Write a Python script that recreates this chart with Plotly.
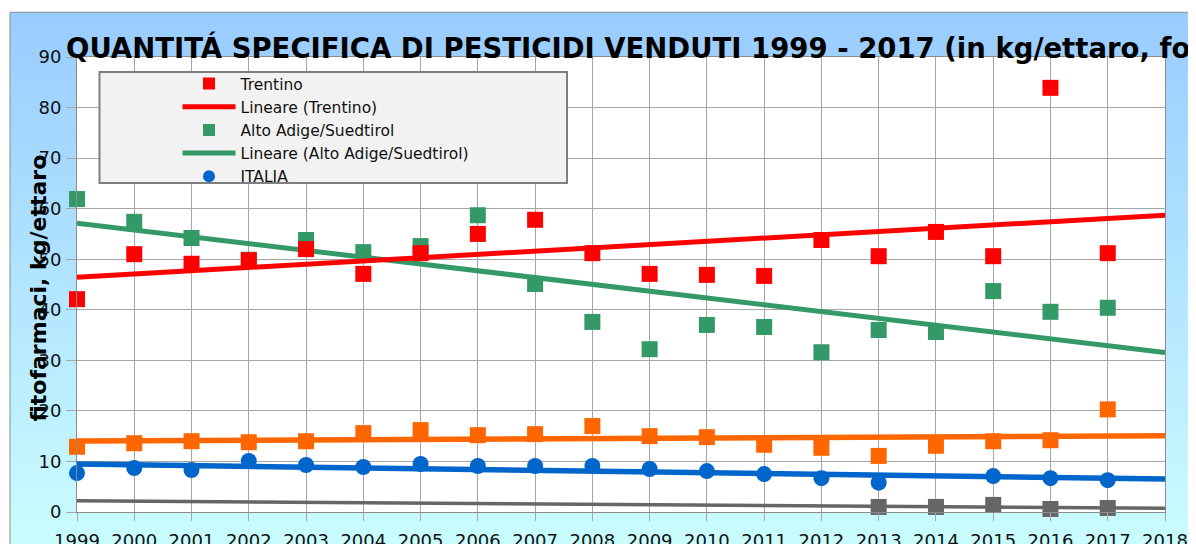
import base64
import numpy as np
import plotly.graph_objects as go

# ---------------- data ----------------
years = list(range(1999, 2018))
trentino = [42.1, 51.0, 49.1, 49.8, 52.0, 47.1, 51.2, 55.0, 57.8, 51.2,
            47.1, 46.9, 46.7, 53.8, 50.6, 55.4, 50.6, 83.9, 51.2]
alto_adige = [61.9, 57.4, 54.2, 49.9, 53.8, 51.4, 52.6, 58.7, 45.1, 37.6,
              32.2, 37.0, 36.6, 31.6, 36.0, 35.6, 43.7, 39.6, 40.4]
italia = [7.7, 8.7, 8.3, 10.1, 9.3, 8.9, 9.5, 9.1, 9.1, 9.1,
          8.5, 8.1, 7.5, 6.7, 5.8, None, 7.1, 6.7, 6.3]
serie_4 = [12.9, 13.6, 14.0, 13.8, 14.0, 15.6, 16.2, 15.2, 15.4, 17.0,
           15.0, 14.8, 13.3, 12.7, 11.1, 13.1, 14.0, 14.2, 20.3]
serie_5 = [None] * 14 + [1.0, 1.0, 1.4, 0.6, 0.8]
trend_years = [1999, 2018]
x_ticks = list(range(1999, 2019))
y_ticks = list(range(0, 100, 10))

title_text = "QUANTITÁ SPECIFICA DI PESTICIDI VENDUTI 1999 - 2017 (in kg/ettaro, fonte ISTAT)"
y_title = "fitofarmaci, kg/ettaro"

# ---------------- layout geometry ----------------
# the page body has an 8px margin, so the figure is 8px smaller than the window
OFF = 8
W, H = 1196 - OFF, 544 - OFF
PL, PR, PT, PB = 77, 1165, 57, 512          # plot area in window pixels
ML, MR, MT, MB = PL - OFF, W - (PR - OFF), PT - OFF, H - (PB - OFF)
PW, PH = PR - PL, PB - PT


def px2x(px):
    return (px - PL) / PW


def py2y(py):
    return (PB - py) / PH


def linear_trend(vals):
    xs = np.array([y for y, v in zip(years, vals) if v is not None], float)
    ys = np.array([v for v in vals if v is not None], float)
    k, b = np.polyfit(xs, ys, 1)
    tx = np.array(trend_years, float)
    return tx, k * tx + b


RED, GREEN, BLUE, ORANGE, GRAY = "#ff0000", "#339966", "#0066cc", "#ff6600", "#666666"
FONT = "DejaVu Sans"

fig = go.Figure()


def add_series(name, vals, color, symbol, lw, show, rank_pt, rank_ln, trend_name):
    tx, ty = linear_trend(vals)
    fig.add_trace(go.Scatter(x=tx, y=ty, mode="lines", name=trend_name,
                             line=dict(color=color, width=lw),
                             showlegend=show, legendrank=rank_ln, hoverinfo="skip"))
    fig.add_trace(go.Scatter(x=years, y=vals, mode="markers", name=name,
                             marker=dict(color=color, symbol=symbol, size=16),
                             showlegend=show or name == "ITALIA", legendrank=rank_pt,
                             cliponaxis=False))


add_series("Serie 5", serie_5, GRAY, "square", 3.5, False, 90, 91, "Lineare (Serie 5)")
add_series("ITALIA", italia, BLUE, "circle", 5.5, False, 5, 6, "Lineare (ITALIA)")
add_series("Serie 4", serie_4, ORANGE, "square", 5.5, False, 92, 93, "Lineare (Serie 4)")
add_series("Alto Adige/Suedtirol", alto_adige, GREEN, "square", 5, True, 3, 4,
           "Lineare (Alto Adige/Suedtirol)")
add_series("Trentino", trentino, RED, "square", 5, True, 1, 2, "Lineare (Trentino)")

# gradient background of the chart area
svg = ('<svg xmlns="http://www.w3.org/2000/svg" width="100" height="100" viewBox="0 0 100 100" '
       'preserveAspectRatio="none"><defs><linearGradient id="g" x1="0" y1="0" x2="0" y2="1">'
       '<stop offset="0" stop-color="#99ccff"/><stop offset="1" stop-color="#ccffff"/>'
       '</linearGradient></defs><rect x="0" y="0" width="100" height="100" fill="url(#g)"/></svg>')
src = "data:image/svg+xml;base64," + base64.b64encode(svg.encode()).decode()

axis_common = dict(showgrid=True, gridcolor="#a6a6a6", gridwidth=1, showline=True,
                   linecolor="#8c8c8c", linewidth=1, mirror=True, ticks="outside",
                   tickcolor="#a6a6a6", zeroline=False, automargin=False,
                   tickfont=dict(family=FONT, size=18, color="#111111"))

fig.update_layout(
    template="none",
    width=W, height=H,
    margin=dict(l=ML, r=MR, t=MT, b=MB, pad=0, autoexpand=False),
    paper_bgcolor="#ffffff", plot_bgcolor="#ffffff",
    xaxis=dict(range=[1999, 2018], tickvals=x_ticks, ticklen=8,
               ticklabelstandoff=4, **axis_common),
    yaxis=dict(range=[0, 90], tickvals=y_ticks, ticklen=10,
               ticklabelstandoff=1, **axis_common),
    showlegend=True,
    legend=dict(x=px2x(177.5), y=py2y(67), xanchor="left", yanchor="top",
                bgcolor="rgba(0,0,0,0)", borderwidth=0, itemwidth=53,
                itemsizing="constant", tracegroupgap=0,
                font=dict(family=FONT, size=15.5, color="#111111")),
    images=[dict(source=src, xref="paper", yref="paper",
                 x=px2x(10), y=py2y(12.3), sizex=(1192 - 10) / PW, sizey=(570 - 12.3) / PH,
                 xanchor="left", yanchor="top", sizing="stretch", layer="below")],
    shapes=[
        dict(type="rect", xref="paper", yref="paper", x0=px2x(10), x1=px2x(1192),
             y0=py2y(600), y1=py2y(12.3), line=dict(color="#8c8c8c", width=1),
             fillcolor="rgba(0,0,0,0)", layer="below"),
        dict(type="rect", xref="paper", yref="paper", x0=0, x1=1, y0=0, y1=1,
             line=dict(width=0), fillcolor="#ffffff", layer="below"),
        dict(type="rect", xref="paper", yref="paper", x0=px2x(99.5), x1=px2x(567),
             y0=py2y(183), y1=py2y(72), line=dict(color="#7f7f7f", width=2),
             fillcolor="#f2f2f2", layer="above"),
    ],
    annotations=[
        dict(text=title_text, xref="paper", yref="paper", x=px2x(64), y=py2y(47),
             xanchor="left", yanchor="middle", showarrow=False,
             font=dict(family=FONT, size=27.5, color="#000000", weight="bold")),
        dict(text=y_title, xref="paper", yref="paper", x=px2x(37.5), y=py2y(288),
             xanchor="center", yanchor="middle", textangle=-90, showarrow=False,
             font=dict(family=FONT, size=22, color="#000000", weight="bold")),
    ],
)

fig.write_html("out.html")
